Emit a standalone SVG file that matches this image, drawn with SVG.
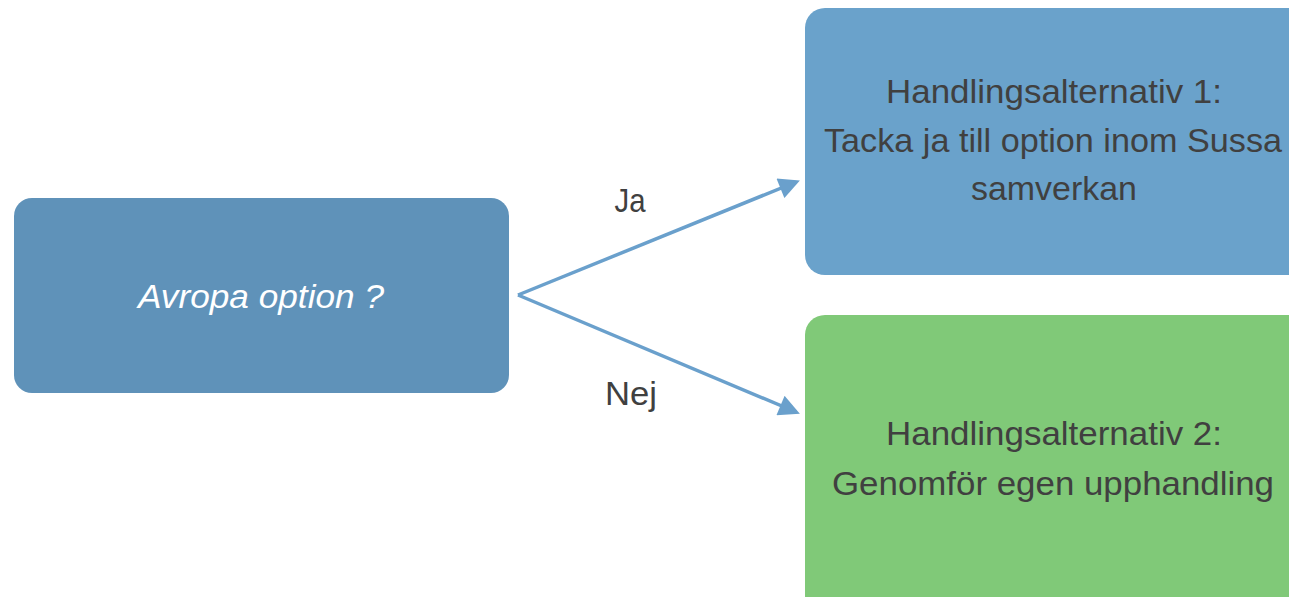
<svg xmlns="http://www.w3.org/2000/svg" width="1289" height="597" viewBox="0 0 1289 597">
<style>
.lbl{font-family:"Liberation Sans Narrow","Liberation Sans",Arial,sans-serif;font-size:34px;fill:#404040;text-anchor:middle}
.conn{stroke:#6aa0cc;stroke-width:3.5;fill:none}
</style>
<defs>
<marker id="ah" viewBox="0 0 10 10" refX="8" refY="5" markerWidth="6.5" markerHeight="6" orient="auto" markerUnits="strokeWidth">
<path d="M0,0 L10,5 L0,10 z" fill="#6aa0cc"/>
</marker>
</defs>
<rect width="1289" height="597" fill="#ffffff"/>
<g id="connectors">
<path class="conn" d="M518,295 L796,182" marker-end="url(#ah)"/>
<path class="conn" d="M518,295 L796,412" marker-end="url(#ah)"/>
<text class="lbl" x="630" y="212" textLength="31" lengthAdjust="spacingAndGlyphs">Ja</text>
<text class="lbl" x="631" y="405" textLength="52" lengthAdjust="spacingAndGlyphs">Nej</text>
</g>
<g id="node-avropa">
<rect x="14" y="198" width="495" height="195" rx="18" fill="#5f92b9"/>
<text x="261" y="308" style="font-family:'Liberation Sans',Arial,sans-serif;font-size:34px;font-style:italic;fill:#ffffff;text-anchor:middle" textLength="246" lengthAdjust="spacingAndGlyphs">Avropa option ?</text>
</g>
<g id="node-alt1">
<rect x="805" y="8" width="510" height="267" rx="20" fill="#6aa2cb"/>
<text class="lbl" x="1054" y="103" textLength="336" lengthAdjust="spacingAndGlyphs">Handlingsalternativ 1:</text>
<text class="lbl" x="1053" y="152" textLength="458" lengthAdjust="spacingAndGlyphs">Tacka ja till option inom Sussa</text>
<text class="lbl" x="1054" y="200" textLength="166" lengthAdjust="spacingAndGlyphs">samverkan</text>
</g>
<g id="node-alt2">
<rect x="805" y="315" width="510" height="300" rx="20" fill="#80c978"/>
<text class="lbl" x="1054" y="445" textLength="336" lengthAdjust="spacingAndGlyphs">Handlingsalternativ 2:</text>
<text class="lbl" x="1053" y="495" textLength="442" lengthAdjust="spacingAndGlyphs">Genomför egen upphandling</text>
</g>
</svg>
